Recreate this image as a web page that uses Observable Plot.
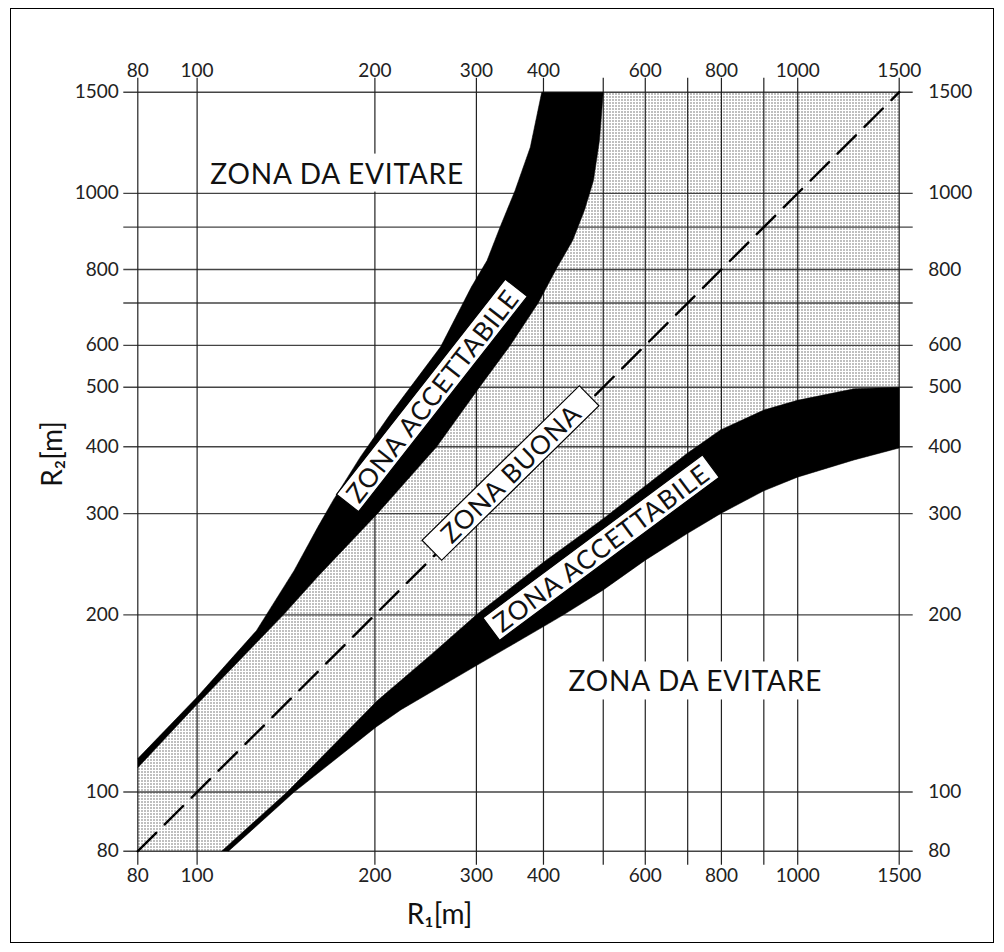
<!DOCTYPE html>
<html>
<head>
<meta charset="utf-8">
<script src="https://cdn.jsdelivr.net/npm/d3@7"></script>
<script src="https://cdn.jsdelivr.net/npm/@observablehq/plot@0.6"></script>
<style>
  body { margin: 0; background: #fff; }
  #wrap { position: relative; width: 1004px; height: 952px; }
  #border { position: absolute; left: 10px; top: 8px; width: 982px; height: 933px; border: 1px solid #000; pointer-events: none; }
  #wrap svg { position: absolute; left: 0; top: 0; }
</style>
</head>
<body>
<div id="wrap"><div id="border"></div></div>
<script>
// Axis calibration of the reference (same non-uniform log ruling on both axes)
const axisValues   = [80, 100, 200, 300, 400, 500, 600, 700, 800, 900, 1000, 1500];
const axisFraction = [0, 0.0779, 0.3114, 0.4447, 0.5328, 0.6113, 0.6665, 0.7222, 0.7665, 0.8222, 0.8667, 1];
const xTickLabels = [80, 100, 200, 300, 400, 600, 800, 1000, 1500];
const yTickLabels = [80, 100, 200, 300, 400, 500, 600, 800, 1000, 1500];

// Upper "zona accettabile" band: outer (upper-left) and inner (lower-right) edges
const upperOuterR1 = [80, 100, 126, 146, 160, 170, 189, 213, 260, 294, 314, 332, 354, 378, 397];
const upperOuterR2 = [114, 145, 188, 239, 284, 318, 383, 453, 596, 746, 820, 900, 1011, 1203, 1500];
const upperInnerR1 = [80, 100, 140, 160, 202, 256, 304, 347, 391, 420, 446, 466, 482, 493, 500];
const upperInnerR2 = [110, 141, 200, 233, 300, 400, 500, 600, 700, 802, 867, 948, 1052, 1236, 1500];

// Lower "zona accettabile" band: upper edge and lower edge
const lowerUpperR1 = [110, 142, 202, 250, 300, 400, 500, 600, 699, 797, 900, 999, 1252, 1500];
const lowerUpperR2 = [80, 100, 143, 171, 200, 247, 294, 338, 389, 426, 459, 476, 497, 500];
const lowerLowerR1 = [113, 146, 201, 222, 300, 400, 431, 500, 600, 699, 797, 900, 999, 1252, 1500];
const lowerLowerR2 = [80, 100, 129, 138, 164, 191, 200, 221, 249, 277, 300, 331, 351, 378, 398];

// Diagonal R2 = R1
const diagonal = [80, 1500];

// Labels
const zoneLabels = ["ZONA DA EVITARE", "ZONA DA EVITARE"];
const zoneR1 = [172.6, 721.6];
const zoneR2 = [1078, 153.5];
const bandLabels = ["ZONA ACCETTABILE", "ZONA BUONA", "ZONA ACCETTABILE"];
const bandR1 = [252.5, 349, 497.8];
const bandR2 = [483, 355.5, 260.5];
const bandAngle = [-51.9, -44.5, -36.6];

// Layout
const W = 1004, H = 952;
const mL = 137.3, mR = 105.3, mT = 91.7, mB = 101.3;
const xRange = axisFraction.map(f => mL + f * (W - mL - mR));
const yRange = axisFraction.map(f => (H - mB) - f * (H - mT - mB));

const pts = (xs, ys) => xs.map((x, i) => ({x, y: ys[i]}));
const lo = axisValues[0], hi = axisValues[axisValues.length - 1];
const upperBand = [...pts(upperOuterR1, upperOuterR2), ...pts(upperInnerR1, upperInnerR2).reverse()];
const lowerBand = [...pts(lowerUpperR1, lowerUpperR2), ...pts(lowerLowerR1, lowerLowerR2).reverse()];
const goodZone = [{x: lo, y: lo}, ...pts(lowerLowerR1, lowerLowerR2), {x: hi, y: hi}, ...pts(upperOuterR1, upperOuterR2).reverse()];

const zones = zoneLabels.map((t, i) => ({t, x: zoneR1[i], y: zoneR2[i]}));
const bands = bandLabels.map((t, i) => ({t, x: bandR1[i], y: bandR2[i], a: bandAngle[i]}));

const stippleDefs = () => {
  const ns = "http://www.w3.org/2000/svg";
  const defs = document.createElementNS(ns, "defs");
  const pat = document.createElementNS(ns, "pattern");
  pat.setAttribute("id", "stipple");
  pat.setAttribute("patternUnits", "userSpaceOnUse");
  pat.setAttribute("width", "3");
  pat.setAttribute("height", "3");
  const bg = document.createElementNS(ns, "rect");
  bg.setAttribute("width", "3"); bg.setAttribute("height", "3"); bg.setAttribute("fill", "#fff");
  const dot = document.createElementNS(ns, "rect");
  dot.setAttribute("width", "1"); dot.setAttribute("height", "1"); dot.setAttribute("fill", "#000");
  pat.appendChild(bg); pat.appendChild(dot);
  defs.appendChild(pat);
  return defs;
};

const font = "Lato, 'Open Sans', 'DejaVu Sans', sans-serif";

const chart = Plot.plot({
  width: W, height: H,
  marginLeft: mL, marginRight: mR, marginTop: mT, marginBottom: mB,
  x: {type: "log", domain: axisValues, range: xRange, axis: null},
  y: {type: "log", domain: axisValues, range: yRange, axis: null},
  style: {fontFamily: font, background: "transparent", color: "#000"},
  marks: [
    stippleDefs,
    Plot.line(goodZone, {x: "x", y: "y", fill: "url(#stipple)", stroke: "none"}),
    Plot.ruleY(axisValues, {y: d => d, insetLeft: -14, insetRight: -14, stroke: "#444", strokeWidth: 1.4}),
    Plot.ruleX(axisValues, {x: d => d, insetTop: -14, insetBottom: -14, stroke: "#222", strokeWidth: 1.2}),
    Plot.line(diagonal, {x: d => d, y: d => d, stroke: "#000", strokeWidth: 2.4, strokeDasharray: "26,12"}),
    Plot.line(upperBand, {x: "x", y: "y", fill: "#000", stroke: "#000", strokeWidth: 0.5}),
    Plot.line(lowerBand, {x: "x", y: "y", fill: "#000", stroke: "#000", strokeWidth: 0.5}),
    Plot.text(zones, {x: "x", y: "y", text: "t", fontSize: 28, fill: "#111"}),
    Plot.text(bands, {x: "x", y: "y", text: "t", rotate: "a", fontSize: 26, fill: "#111"}),
    Plot.text(xTickLabels, {x: d => d, text: d => String(d), frameAnchor: "bottom", dy: 31, fontSize: 19, fill: "#222"}),
    Plot.text(xTickLabels, {x: d => d, text: d => String(d), frameAnchor: "top", dy: -29, fontSize: 19, fill: "#222"}),
    Plot.text(yTickLabels, {y: d => d, text: d => String(d), frameAnchor: "left", dx: -19, textAnchor: "end", fontSize: 19, fill: "#222"}),
    Plot.text(yTickLabels, {y: d => d, text: d => String(d), frameAnchor: "right", dx: 29, textAnchor: "start", fontSize: 19, fill: "#222"}),
    Plot.text(["R₁[m]"], {text: d => d, frameAnchor: "bottom", dx: -79, dy: 73, fontSize: 28, fill: "#111"}),
    Plot.text(["R₂[m]"], {text: d => d, frameAnchor: "left", dx: -85, dy: 15, rotate: -90, fontSize: 28, fill: "#111"})
  ]
});

document.getElementById("wrap").appendChild(chart);

// white boxes behind the zone labels
const boxSpec = {
  "ZONA DA EVITARE": {stroke: "none", padX: 10, h: 38, ls: 0.8},
  "ZONA ACCETTABILE": {stroke: "#000", padX: 6, h: 28, ls: 1.1},
  "ZONA BUONA": {stroke: "#000", padX: 18, h: 28, ls: 1.1}
};
chart.querySelectorAll("text").forEach(t => {
  const spec = boxSpec[t.textContent];
  if (!spec) return;
  t.setAttribute("letter-spacing", spec.ls);
  const bb = t.getBBox();
  const cy = bb.y + bb.height / 2;
  const r = document.createElementNS("http://www.w3.org/2000/svg", "rect");
  r.setAttribute("x", bb.x - spec.padX);
  r.setAttribute("y", cy - spec.h / 2);
  r.setAttribute("width", bb.width + 2 * spec.padX);
  r.setAttribute("height", spec.h);
  r.setAttribute("fill", "#fff");
  r.setAttribute("stroke", spec.stroke);
  r.setAttribute("stroke-width", "1.2");
  const tr = t.getAttribute("transform");
  if (tr) r.setAttribute("transform", tr);
  t.parentNode.insertBefore(r, t);
});
</script>
</body>
</html>
